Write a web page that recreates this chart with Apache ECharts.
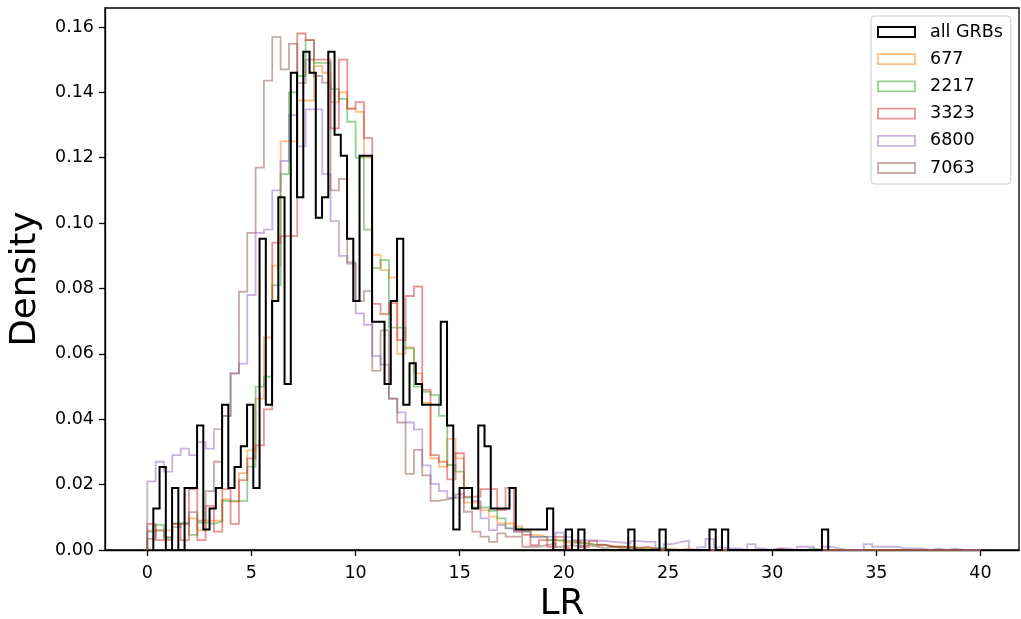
<!DOCTYPE html>
<html>
<head>
<meta charset="utf-8">
<script src="https://cdn.jsdelivr.net/npm/echarts@6/dist/echarts.min.js"></script>
<style>
  html, body { margin: 0; padding: 0; background: #ffffff; }
  #chart { width: 1021px; height: 619px; }
</style>
</head>
<body>
<div id="chart"></div>
<script>
// ---------- data (densities) ----------
const xTicks = [0, 5, 10, 15, 20, 25, 30, 35, 40];
const yTicks = [0, 0.02, 0.04, 0.06, 0.08, 0.10, 0.12, 0.14, 0.16];

// "all GRBs": 108 bins, first edge 0.29, width 0.3
const allStart = 0.29;
const allWidth = 0.3;
const allGRBs = [
  0.0127, 0.0254, 0, 0.0190, 0, 0.0190, 0.0190, 0.0381, 0.0063, 0.0127,
  0.0190, 0.0444, 0.0190, 0.0254, 0.0317, 0.0444, 0.0190, 0.0952, 0.0444, 0.0762,
  0.1079, 0.0508, 0.1460, 0.1079, 0.1524, 0.1460, 0.1016, 0.1079, 0.1524, 0.1270,
  0.1206, 0.0952, 0.0762, 0.1206, 0.1206, 0.0698, 0.0698, 0.0508, 0.0762, 0.0952,
  0.0444, 0.0571, 0.0508, 0.0444, 0.0444, 0.0444, 0.0698, 0.0381, 0.0063, 0.0190,
  0.0190, 0.0127, 0.0381, 0.0317, 0.0127, 0.0127, 0.0127, 0.0190, 0.0063, 0.0063,
  0.0063, 0.0063, 0.0063, 0.0127, 0, 0, 0.0063, 0, 0.0063, 0,
  0, 0, 0, 0, 0, 0, 0.0063, 0, 0, 0,
  0, 0.0063, 0, 0, 0, 0, 0, 0, 0, 0.0063,
  0, 0.0063, 0, 0, 0, 0, 0, 0, 0, 0,
  0, 0, 0, 0, 0, 0, 0, 0.0063
];

// sub-samples: 100 bins from 0 to 40, width 0.4
const subStart = 0;
const subWidth = 0.4;
const s677 = [
  0.006, 0.006, 0.006, 0.008, 0.008, 0.0097, 0.006, 0.009, 0.009, 0.0155,
  0.0148, 0.0235, 0.0305, 0.0463, 0.065, 0.087, 0.125, 0.125, 0.1375, 0.1375,
  0.148, 0.146, 0.137, 0.140, 0.135, 0.134, 0.120, 0.0903, 0.0856, 0.0834,
  0.060, 0.062, 0.054, 0.045, 0.028, 0.0255, 0.034, 0.028, 0.0145, 0.0145,
  0.0122, 0.0102, 0.0081, 0.0081, 0.0073, 0.006, 0.0046, 0.004, 0.003, 0.0026,
  0.002, 0.0026, 0.002, 0.0015, 0.0015, 0.001, 0.001, 0.0008, 0.0005, 0.0005,
  0.0005, 0, 0.0005, 0, 0.0005, 0, 0, 0, 0, 0,
  0, 0, 0, 0, 0, 0, 0, 0, 0, 0,
  0, 0, 0, 0, 0, 0, 0, 0, 0, 0,
  0, 0, 0, 0, 0, 0, 0, 0, 0, 0
];
const s2217 = [
  0.0056, 0.0077, 0.0036, 0.0082, 0.0084, 0.0046, 0.0084, 0.0081, 0.0087, 0.015,
  0.015, 0.015, 0.0255, 0.050, 0.053, 0.081, 0.115, 0.140, 0.145, 0.156,
  0.149, 0.149, 0.141, 0.138, 0.131, 0.120, 0.098, 0.0862, 0.0887, 0.068,
  0.068, 0.0617, 0.050, 0.0484, 0.0474, 0.041, 0.026, 0.024, 0.016, 0.013,
  0.013, 0.012, 0.0097, 0.0066, 0.0066, 0.0056, 0.004, 0.004, 0.003, 0.003,
  0.0025, 0.002, 0.002, 0.0015, 0.0015, 0.001, 0.001, 0.0008, 0.0008, 0.0005,
  0.0005, 0.0005, 0, 0, 0, 0, 0, 0, 0, 0,
  0, 0, 0, 0, 0, 0, 0, 0, 0, 0.0005,
  0, 0, 0, 0, 0, 0, 0, 0, 0, 0,
  0, 0, 0, 0, 0, 0, 0, 0, 0, 0
];
const s3323 = [
  0.008, 0.003, 0.003, 0.008, 0.003, 0.0186, 0.003, 0.0135, 0.0056, 0.0186,
  0.008, 0.0214, 0.028, 0.032, 0.043, 0.094, 0.096, 0.096, 0.158, 0.156,
  0.150, 0.150, 0.129, 0.150, 0.135, 0.137, 0.126, 0.0753, 0.0722, 0.0755,
  0.0642, 0.0777, 0.0806, 0.049, 0.029, 0.027, 0.0216, 0.0296, 0.0163, 0.0163,
  0.0186, 0.0186, 0.0122, 0.019, 0.0056, 0.0046, 0.0015, 0.003, 0.001, 0.004,
  0.0006, 0.0028, 0.001, 0.0028, 0.0016, 0.001, 0.001, 0.001, 0.0005, 0.001,
  0.0005, 0, 0, 0, 0, 0, 0, 0, 0, 0,
  0, 0, 0, 0, 0, 0.0005, 0, 0, 0, 0,
  0, 0, 0, 0, 0, 0, 0, 0, 0, 0,
  0, 0, 0, 0, 0, 0, 0, 0, 0, 0
];
const s6800 = [
  0.021, 0.027, 0.024, 0.029, 0.031, 0.029, 0.033, 0.031, 0.037, 0.041,
  0.054, 0.057, 0.078, 0.097, 0.098, 0.110, 0.119, 0.133, 0.1235, 0.1348,
  0.1348, 0.115, 0.1006, 0.090, 0.0875, 0.0724, 0.0689, 0.0593, 0.0567, 0.0463,
  0.0421, 0.039, 0.0369, 0.0259, 0.0202, 0.018, 0.016, 0.016, 0.019, 0.015,
  0.0097, 0.0061, 0.0076, 0.0066, 0.0056, 0.0056, 0.004, 0.004, 0.004, 0.0053,
  0.004, 0.003, 0.0029, 0.0029, 0.0027, 0.0025, 0.0023, 0.002, 0.0027, 0.0025,
  0.0025, 0.0005, 0.0018, 0.0024, 0.0029, 0, 0.0008, 0.0034, 0.0008, 0.0005,
  0.0005, 0, 0.0018, 0.0005, 0, 0.0005, 0.0005, 0, 0.001, 0.001,
  0, 0.001, 0.0005, 0, 0, 0, 0.0018, 0.001, 0.001, 0.001,
  0.0005, 0.0005, 0.0005, 0, 0.0005, 0, 0.0005, 0, 0, 0
];
const s7063 = [
  0.0034, 0.006, 0.004, 0.007, 0.008, 0.0116, 0.009, 0.018, 0.027, 0.041,
  0.054, 0.079, 0.097, 0.117, 0.1436, 0.1569, 0.147, 0.1548, 0.1428, 0.150,
  0.145, 0.143, 0.110, 0.1135, 0.088, 0.0762, 0.0792, 0.0548, 0.0672, 0.0463,
  0.039, 0.0233, 0.0306, 0.0228, 0.015, 0.0155, 0.016, 0.017, 0.0117, 0.0056,
  0.0041, 0.0025, 0.0051, 0.0041, 0.0041, 0.001, 0.001, 0.0015, 0.002, 0.001,
  0.0015, 0.001, 0.0015, 0.001, 0.0005, 0.001, 0.0005, 0.0005, 0, 0,
  0, 0, 0, 0, 0, 0, 0, 0, 0, 0,
  0, 0, 0, 0, 0, 0, 0, 0, 0, 0,
  0, 0, 0, 0, 0, 0, 0, 0, 0, 0,
  0, 0, 0, 0, 0, 0, 0, 0, 0, 0
];

const seriesNames = ['all GRBs', '677', '2217', '3323', '6800', '7063'];

// ---------- helpers ----------
function stepOutline(start, width, vals) {
  const pts = [[start, 0]];
  vals.forEach(function (v, i) {
    const x0 = start + i * width;
    pts.push([x0, v], [x0 + width, v]);
  });
  pts.push([start + vals.length * width, 0]);
  return pts;
}

const FONT = 'DejaVu Sans';
const colors = {
  '677': 'rgba(255,127,14,0.5)',
  '2217': 'rgba(44,160,44,0.5)',
  '3323': 'rgba(214,39,40,0.5)',
  '6800': 'rgba(148,103,189,0.5)',
  '7063': 'rgba(140,86,75,0.5)',
  'all GRBs': '#000000'
};

function histSeries(name, start, width, vals, lw, z) {
  return {
    name: name,
    type: 'line',
    data: stepOutline(start, width, vals),
    showSymbol: false,
    symbol: 'none',
    silent: true,
    z: z,
    lineStyle: { color: colors[name], width: lw, join: 'miter' },
    itemStyle: { color: colors[name] }
  };
}

const series = [
  histSeries('677', subStart, subWidth, s677, 1.8, 2),
  histSeries('2217', subStart, subWidth, s2217, 1.8, 2),
  histSeries('3323', subStart, subWidth, s3323, 1.8, 2),
  histSeries('6800', subStart, subWidth, s6800, 1.8, 2),
  histSeries('7063', subStart, subWidth, s7063, 1.8, 2),
  histSeries('all GRBs', allStart, allWidth, allGRBs, 2, 3)
];

const chart = echarts.init(document.getElementById('chart'), null, { renderer: 'canvas' });
chart.setOption({
  animation: false,
  backgroundColor: '#ffffff',
  textStyle: { fontFamily: FONT },
  grid: {
    left: 105, right: 2, top: 8, bottom: 69,
    outerBoundsMode: 'none',
    containLabel: false,
    show: true, borderColor: '#000000', borderWidth: 1.3, backgroundColor: 'transparent'
  },
  legend: {
    orient: 'vertical',
    left: 871, top: 16,
    padding: [7, 8, 7, 6],
    itemWidth: 37, itemHeight: 10, itemGap: 9.2,
    backgroundColor: 'rgba(255,255,255,0.8)',
    borderColor: '#cccccc', borderWidth: 1, borderRadius: 3,
    textStyle: { fontFamily: FONT, fontSize: 17.5, color: '#000000', padding: [0, 0, 0, 10] },
    selectedMode: false,
    data: seriesNames.map(function (n) {
      return {
        name: n, icon: 'rect',
        itemStyle: { color: 'rgba(255,255,255,0)', borderColor: colors[n], borderWidth: n === 'all GRBs' ? 2 : 1.8, opacity: 1 }
      };
    })
  },
  xAxis: {
    type: 'value',
    min: -2.03, max: 41.85,
    name: 'LR', nameLocation: 'middle', nameGap: 37,
    nameTextStyle: { fontFamily: FONT, fontSize: 35.5, color: '#000000' },
    axisLine: { show: true, onZero: false, lineStyle: { color: '#000000', width: 1.3 } },
    axisTick: { show: true, inside: false, length: 6, lineStyle: { color: '#000000', width: 1.3 }, customValues: xTicks },
    axisLabel: { customValues: xTicks, fontFamily: FONT, fontSize: 17.5, color: '#000000', margin: 14 },
    splitLine: { show: false }
  },
  yAxis: {
    type: 'value',
    min: 0, max: 0.1658,
    name: 'Density', nameLocation: 'middle', nameGap: 60, nameRotate: 90,
    nameTextStyle: { fontFamily: FONT, fontSize: 35.5, color: '#000000' },
    axisLine: { show: true, onZero: false, lineStyle: { color: '#000000', width: 1.3 } },
    axisTick: { show: true, inside: false, length: 6, lineStyle: { color: '#000000', width: 1.3 }, customValues: yTicks },
    axisLabel: {
      customValues: yTicks, fontFamily: FONT, fontSize: 17.5, color: '#000000', margin: 11,
      formatter: function (v) { return v.toFixed(2); }
    },
    splitLine: { show: false }
  },
  series: series
});
</script>
</body>
</html>
